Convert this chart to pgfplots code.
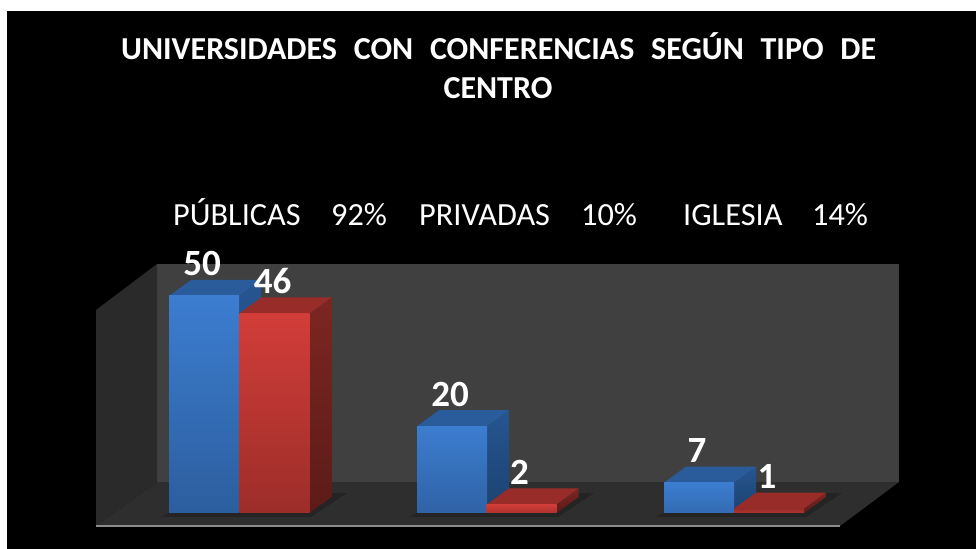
\documentclass[border=0pt]{standalone}
\usepackage{fontspec}
\setmainfont{Carlito}
\usepackage{pgfplots}
\pgfplotsset{compat=1.18}

% x runs in image pixels, y in chart values (4.34 px per unit)
% depth of the 3D boxes: 22 px across, 3.69 units up
\definecolor{wallback}{HTML}{404040}
\definecolor{wallside}{HTML}{2A2A2A}
\definecolor{floorc}{HTML}{2E2E2E}
\definecolor{shadowc}{HTML}{242424}
\definecolor{edgec}{HTML}{8C8C8C}
\definecolor{bluetop}{HTML}{3C7DD0}
\definecolor{bluebot}{HTML}{2C5E9E}
\definecolor{blueup}{HTML}{2A5C9C}
\definecolor{bluesidet}{HTML}{265590}
\definecolor{bluesideb}{HTML}{1C4270}
\definecolor{redtop}{HTML}{D23D39}
\definecolor{redbot}{HTML}{9C2D29}
\definecolor{redup}{HTML}{982C29}
\definecolor{redsidet}{HTML}{7C2622}
\definecolor{redsideb}{HTML}{5C1B18}

\pgfplotsset{
    face/.style={fill=#1, draw=none},
    blueside/.style={draw=none, top color=bluesidet, bottom color=bluesideb},
    redside/.style={draw=none, top color=redsidet, bottom color=redsideb},
    front/.style 2 args={ybar, bar width=70, bar shift=0pt, draw=none,
        top color=#1, bottom color=#2,
        nodes near coords,
        every node near coord/.append style={
            anchor=center, xshift=-2bp, yshift=32bp, text=white,
            font=\fontsize{37bp}{40bp}\selectfont\bfseries}},
}

\begin{document}
\begin{tikzpicture}
\begin{axis}[
    scale only axis,
    width=976bp, height=549bp,
    xmin=0, xmax=976, ymin=-8.295, ymax=118.2,
    hide axis,
    clip=false,
    /pgf/number format/assume math mode=true,
]
% page and panel
\addplot[face=white] coordinates {(0,-8.295)(976,-8.295)(976,118.2)(0,118.2)};
\addplot[face=black] coordinates {(7,-8.295)(976,-8.295)(976,115.67)(7,115.67)};
% walls and floor
\addplot[face=wallback] coordinates {(157,7.14)(899,7.14)(899,57.37)(157,57.37)};
\addplot[face=wallside] coordinates {(96,-3.0)(157,7.14)(157,57.37)(96,46.77)};
\addplot[face=floorc] coordinates {(96,-3.0)(157,7.14)(899,7.14)(840,-3.0)};
\addplot[edgec, line width=1.5bp] coordinates {(96,-3.0)(840,-3.0)};
% shadows on the floor
\addplot[face=shadowc] coordinates {(161,-0.9)(311,-0.9)(347,4.6)(331,4.6)(309,0)(169,0)};
\addplot[face=shadowc] coordinates {(409,-0.9)(558,-0.9)(594,4.6)(578,4.6)(556,0)(417,0)};
\addplot[face=shadowc] coordinates {(656,-0.9)(806,-0.9)(842,4.6)(826,4.6)(804,0)(664,0)};
% blue box sides and tops
\addplot[blueside] coordinates {(239,0)(261,3.69)(261,53.69)(239,50)};
\addplot[face=blueup] coordinates {(169,50)(191,53.69)(261,53.69)(239,50)};
\addplot[blueside] coordinates {(487,0)(509,3.69)(509,23.69)(487,20)};
\addplot[face=blueup] coordinates {(417,20)(439,23.69)(509,23.69)(487,20)};
\addplot[blueside] coordinates {(734,0)(756,3.69)(756,10.69)(734,7)};
\addplot[face=blueup] coordinates {(664,7)(686,10.69)(756,10.69)(734,7)};
% red box sides and tops
\addplot[redside] coordinates {(309.5,0)(331.5,3.69)(331.5,49.69)(309.5,46)};
\addplot[face=redup] coordinates {(239.5,46)(261.5,49.69)(331.5,49.69)(309.5,46)};
\addplot[redside] coordinates {(556.5,0)(578.5,3.69)(578.5,5.69)(556.5,2)};
\addplot[face=redup] coordinates {(487,2)(509,5.69)(578.5,5.69)(556.5,2)};
\addplot[redside] coordinates {(804,0)(826,3.69)(826,4.69)(804,1)};
\addplot[face=redup] coordinates {(734,1)(756,4.69)(826,4.69)(804,1)};
% fronts with value labels, one plot per bar so each has its own gradient
\addplot[front={bluetop}{bluebot}] coordinates {(204,50)};
\addplot[front={bluetop}{bluebot!85!bluetop}] coordinates {(452,20)};
\addplot[front={bluetop}{bluebot!60!bluetop}] coordinates {(699,7)};
\addplot[front={redtop}{redbot}] coordinates {(274.5,46)};
\addplot[front={redtop}{redbot!70!redtop}] coordinates {(521.5,2)};
\addplot[front={redup}{redup!60!redtop}] coordinates {(769,1)};
% title and subtitle
\node[anchor=base west, text=white, inner sep=0pt,
      font=\fontsize{32bp}{38bp}\selectfont\bfseries] at (axis cs:121,104.5)
  {\makebox[755bp][s]{UNIVERSIDADES\hfill CON\hfill CONFERENCIAS\hfill SEGÚN\hfill TIPO\hfill DE}};
\node[anchor=base, text=white, inner sep=0pt,
      font=\fontsize{32bp}{38bp}\selectfont\bfseries] at (axis cs:498,95.5) {CENTRO};
\node[anchor=base west, text=white, inner sep=0pt,
      font=\fontsize{32.3bp}{38bp}\selectfont] at (axis cs:173,66.13)
  {\makebox[158bp][l]{PÚBLICAS}\makebox[88bp][l]{92\%}\makebox[162bp][l]{PRIVADAS}\makebox[102bp][l]{10\%}\makebox[129bp][l]{IGLESIA}14\%};
\end{axis}
\end{tikzpicture}
\end{document}
